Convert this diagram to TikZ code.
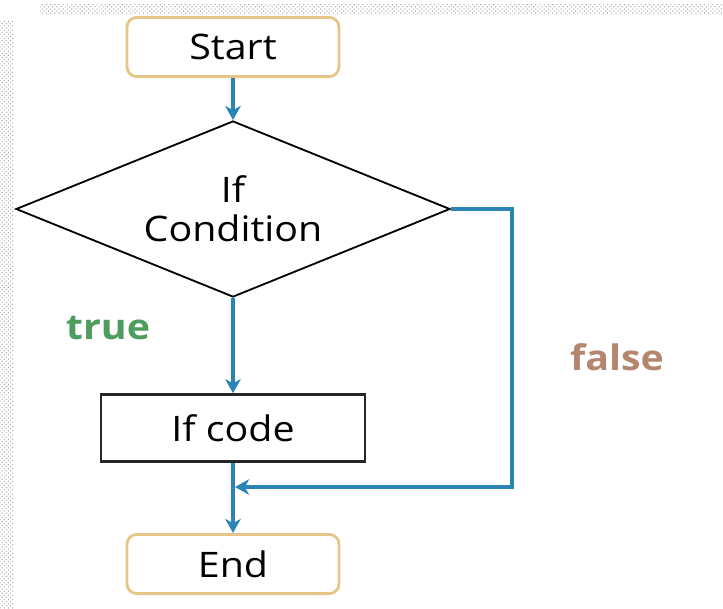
\documentclass[tikz,border=0pt]{standalone}
\usepackage{fontspec}
\setmainfont{Open Sans}[FakeStretch=1.12]
\usepackage{tikz}
\usetikzlibrary{shapes,shapes.geometric,arrows.meta,patterns}
\definecolor{flowblue}{HTML}{2A85B6}
\definecolor{termtan}{HTML}{E6C688}
\definecolor{truegreen}{HTML}{4E9C5E}
\definecolor{falsebrown}{HTML}{B4866E}

\begin{document}
\begin{tikzpicture}[x=0.025cm,y=-0.025cm,
  term/.style={draw=termtan,line width=2pt,rounded corners=7pt,minimum width=5.3cm,minimum height=1.48cm,inner sep=0pt},
  cond/.style={draw=black,line width=1.3pt,diamond,aspect=2.47,minimum width=10.85cm,minimum height=4.4cm,inner sep=0pt,align=center},
  proc/.style={draw=black!85,line width=2pt,minimum width=6.6cm,minimum height=1.67cm,inner sep=0pt},
  flow/.style={draw=flowblue,line width=3.3pt,-{Stealth[length=10pt,width=11pt,inset=3pt]}},
  every node/.style={font=\fontsize{25}{28}\selectfont}]
\useasboundingbox (0,0) rectangle (723,608);
% dotted frame strips
\fill[pattern=crosshatch dots,pattern color=gray!70] (40,4) rectangle (723,14);
\fill[pattern=crosshatch dots,pattern color=gray!70] (0,20) rectangle (13,608);
% boxes
\node[term] (start) at (233,47) {Start};
\node[cond] (cond) at (233,209) {If\\Condition};
\node[proc] (code) at (233,428) {If code};
\node[term] (end) at (233,564) {End};
% labels
\node[text=truegreen,font=\fontsize{25}{28}\selectfont\bfseries] (tlab) at (108,328) {true};
\node[text=falsebrown,font=\fontsize{25}{28}\selectfont\bfseries] (flab) at (617,357) {false};
% connectors
\coordinate (fr) at (512,209);
\coordinate (fb) at (512,487);
\coordinate (jn) at (235,487);
\draw[flow] (start) -- (cond);
\draw[flow] (cond) -- (code);
\draw[flow] (code) -- (end);
\draw[flow] (cond.east) -- (fr) -- (fb) -- (jn);
\end{tikzpicture}
\end{document}
